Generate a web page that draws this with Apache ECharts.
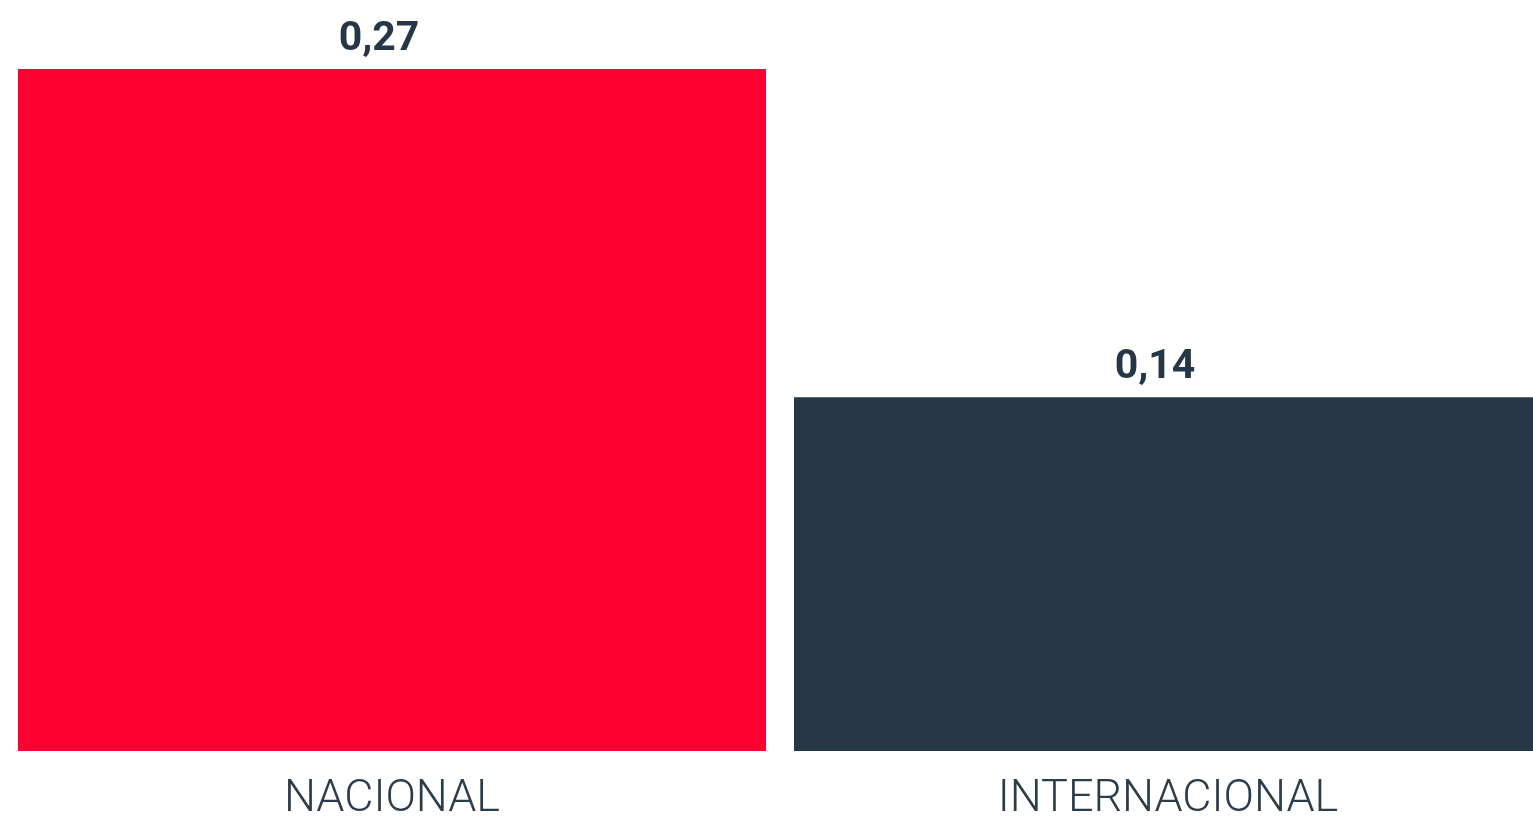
<!DOCTYPE html>
<html>
<head>
<meta charset="utf-8">
<script src="https://cdn.jsdelivr.net/npm/echarts@6/dist/echarts.min.js"></script>
<style>
  html, body { margin: 0; padding: 0; background: #ffffff; }
  #chart { width: 1533px; height: 816px; }
</style>
</head>
<body>
<div id="chart"></div>
<script>
// Categories and values
const categories = ['NACIONAL', 'INTERNACIONAL'];
const values = [0.27, 0.14];
const barColors = ['#FF0030', '#253746'];

const chart = echarts.init(document.getElementById('chart'));

chart.setOption({
  animation: false,
  grid: {
    left: 4, top: 69, width: 1552, bottom: 65,
    containLabel: false,
    outerBoundsMode: 'none'
  },
  xAxis: {
    type: 'category',
    data: categories,
    axisLine: { show: false },
    axisTick: { show: false },
    axisLabel: {
      margin: 26,
      fontFamily: 'Roboto',
      fontWeight: 300,
      fontSize: 45,
      color: '#2B3C4B'
    }
  },
  yAxis: {
    type: 'value',
    min: 0,
    max: 0.27,
    show: false,
    splitLine: { show: false }
  },
  series: [{
    type: 'bar',
    barWidth: 748,
    data: values.map((v, i) => ({ value: v, itemStyle: { color: barColors[i] } })),
    label: {
      show: true,
      position: 'top',
      distance: 9,
      offset: [-13, 0],
      fontFamily: 'Roboto',
      fontWeight: 'bold',
      fontSize: 41,
      color: '#253746',
      formatter: p => p.value.toFixed(2).replace('.', ',')
    }
  }]
});
</script>
</body>
</html>
